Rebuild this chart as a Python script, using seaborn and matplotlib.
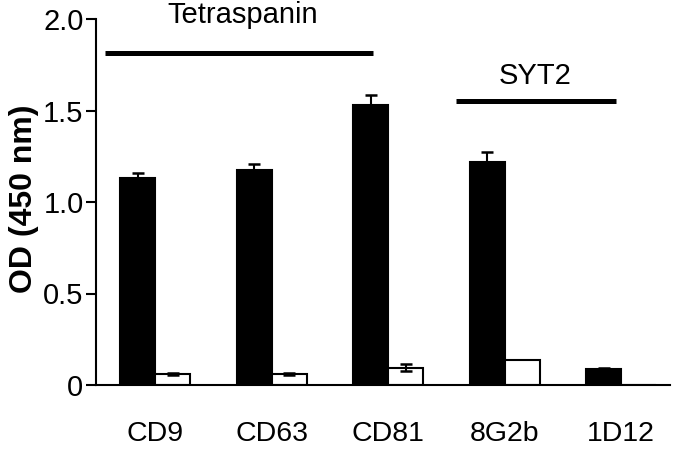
import matplotlib
matplotlib.use("Agg")
import matplotlib.pyplot as plt
import seaborn as sns
import pandas as pd
import numpy as np

categories = ["CD9", "CD63", "CD81", "8G2b", "1D12"]
black_vals = [1.13, 1.175, 1.53, 1.217, 0.089]
black_err = [0.03, 0.03, 0.057, 0.058, 0.006]
white_vals = [0.058, 0.06, 0.095, 0.137, 0.0]
white_err = [0.006, 0.006, 0.02, 0.0, 0.0]
yticks = [0, 0.5, 1.0, 1.5, 2.0]
ytick_labels = ["0", "0.5", "1.0", "1.5", "2.0"]

sns.set_theme(style="ticks")
plt.rcParams["font.family"] = ["Liberation Sans", "DejaVu Sans"]
plt.rcParams["text.color"] = "black"
plt.rcParams["xtick.color"] = "black"
plt.rcParams["ytick.color"] = "black"
plt.rcParams["axes.labelcolor"] = "black"

df = pd.DataFrame({
    "cat": categories * 2,
    "val": black_vals + white_vals,
    "grp": ["A"] * len(categories) + ["B"] * len(categories),
})

fig = plt.figure(figsize=(6.75, 4.49), dpi=100)
ax = fig.add_axes([96 / 675, 1 - 385 / 449, (670 - 96) / 675, (385 - 19) / 449])

sns.barplot(data=df, x="cat", y="val", hue="grp", order=categories,
            palette={"A": "black", "B": "white"}, width=0.6,
            edgecolor="black", linewidth=1.5, errorbar=None, legend=False, ax=ax)

patches = [p for p in ax.patches if p.get_width() > 0]
n = len(categories)
errs = black_err + white_err
vals = black_vals + white_vals
for p, v, e in zip(patches[:2 * n], vals, errs):
    if e > 0:
        cx = p.get_x() + p.get_width() / 2
        ax.errorbar(cx, v, yerr=e, fmt="none", ecolor="black",
                    elinewidth=1.5, capsize=4.5, capthick=1.8, zorder=5)

ax.plot([-0.433, 1.868], [1.814, 1.814], color="black", lw=3.6,
        solid_capstyle="butt", clip_on=False)
ax.plot([2.585, 3.96], [1.553, 1.553], color="black", lw=3.6,
        solid_capstyle="butt", clip_on=False)
ax.text(0.75, 2.02, "Tetraspanin", ha="center", va="center", fontsize=21, clip_on=False)
ax.text(3.26, 1.69, "SYT2", ha="center", va="center", fontsize=21)

ax.set_xlim(-0.51, 4.42)
ax.set_ylim(0, 2.0)
ax.set_yticks(yticks)
ax.set_yticklabels(ytick_labels, fontsize=21)
ax.set_xticks(range(n))
ax.set_xticklabels(categories, fontsize=20.5)
ax.tick_params(axis="x", length=0, pad=26)
ax.tick_params(axis="y", length=7, width=1.5, pad=2, direction="out")
ax.set_xlabel("")
ax.set_ylabel("OD (450 nm)", fontsize=23, fontweight="bold", va="center")
ax.yaxis.set_label_coords(-0.125, 0.51)
sns.despine(ax=ax)
for s in ["left", "bottom"]:
    ax.spines[s].set_linewidth(1.5)
    ax.spines[s].set_color("black")

fig.savefig("out.png", dpi=100)
